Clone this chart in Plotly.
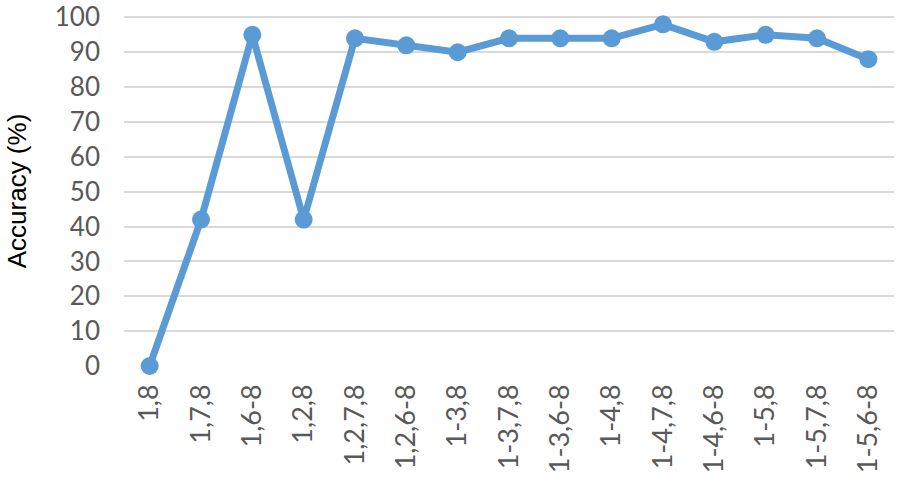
import plotly.graph_objects as go

combos = ["1,8", "1,7,8", "1,6-8", "1,2,8", "1,2,7,8", "1,2,6-8", "1-3,8", "1-3,7,8",
          "1-3,6-8", "1-4,8", "1-4,7,8", "1-4,6-8", "1-5,8", "1-5,7,8", "1-5,6-8"]
accuracy = [0, 42, 95, 42, 94, 92, 90, 94, 94, 94, 98, 93, 95, 94, 88]
y_ticks = list(range(0, 101, 10))

fig = go.Figure(go.Scatter(
    x=combos, y=accuracy, mode="lines+markers",
    line=dict(color="#5B9BD5", width=7),
    marker=dict(color="#5B9BD5", size=18),
    cliponaxis=False,
))
fig.update_layout(
    width=900, height=478,
    margin=dict(l=124, r=6, t=16, b=112),
    plot_bgcolor="white", paper_bgcolor="white",
    showlegend=False,
    font=dict(family="Lato, Open Sans, sans-serif", color="#595959", size=26),
)
fig.update_xaxes(
    type="category", range=[-0.5, len(combos) - 0.5], tickangle=-90,
    showgrid=False, showline=False, ticks="",
    automargin=False, ticklabelstandoff=12, tickfont=dict(size=27),
)
fig.update_yaxes(
    range=[0, 100.4], tickvals=y_ticks, showgrid=True, gridcolor="#D9D9D9", gridwidth=2,
    zeroline=False, showline=False, ticks="", automargin=False, ticklabelstandoff=23,
    ticklabeloverflow="allow", tickfont=dict(size=26),
    title=dict(text="Accuracy (%)", font=dict(family="Liberation Sans, Arial", size=26, color="black"), standoff=20),
)
# drop the default 8px page margin so the figure fills the window
fig.write_html("out.html", config={"displayModeBar": False},
               post_script="document.body.style.margin = '0';")
